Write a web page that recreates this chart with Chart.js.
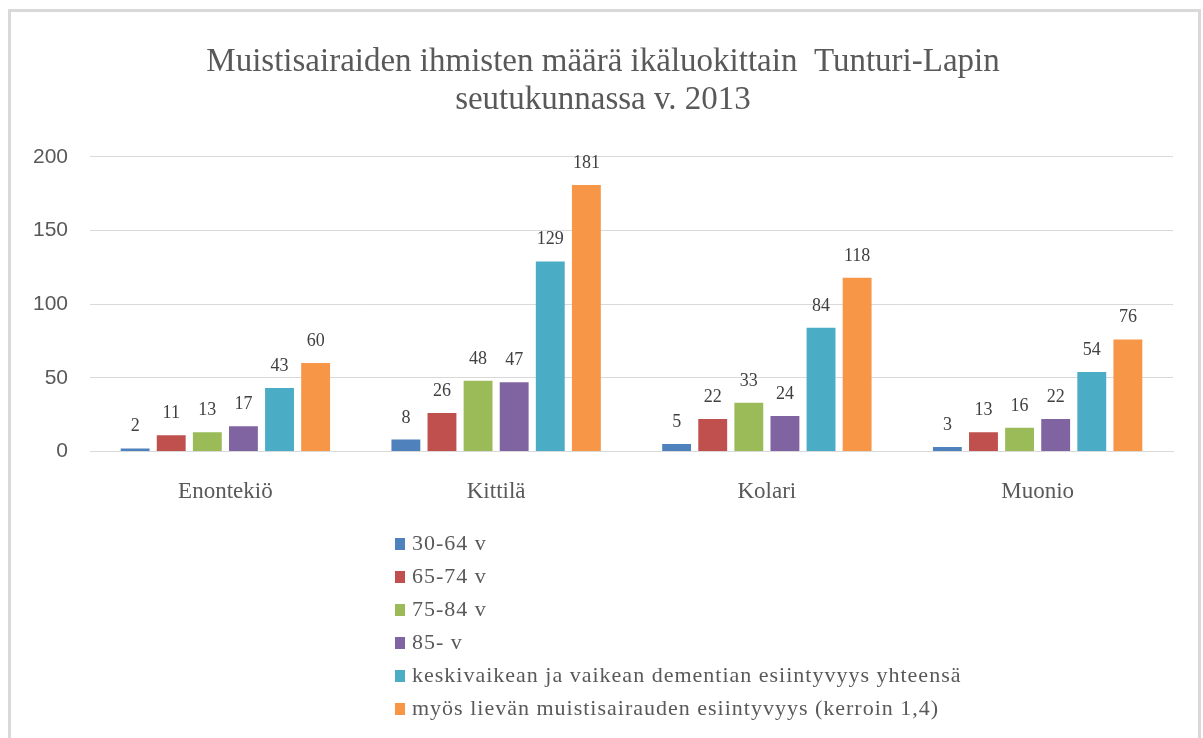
<!DOCTYPE html>
<html>
<head>
<meta charset="utf-8">
<title>Muistisairaiden ihmisten määrä ikäluokittain</title>
<script src="https://cdn.jsdelivr.net/npm/chart.js@4.4.1/dist/chart.umd.min.js"></script>
<style>
  html, body { margin: 0; padding: 0; background: #fff; }
  #frame {
    position: absolute; left: 8px; top: 9px;
    width: 1187px; height: 740px;
    border: 3px solid #d9d9d9; border-bottom: none;
  }
  #wrap { position: absolute; left: 0; top: 0; width: 1203px; height: 738px; }
</style>
</head>
<body>
<div id="frame"></div>
<div id="wrap"><canvas id="chart"></canvas></div>
<script>
// ─── Data ───
const categories = ['Enontekiö', 'Kittilä', 'Kolari', 'Muonio'];

const seriesNames = [
    '30-64 v',
    '65-74 v',
    '75-84 v',
    '85- v',
    'keskivaikean ja vaikean dementian esiintyvyys yhteensä',
    'myös lievän muistisairauden esiintyvyys (kerroin 1,4)'
];

const age30to64 = [2, 8, 5, 3];
const age65to74 = [11, 26, 22, 13];
const age75to84 = [13, 48, 33, 16];
const age85plus = [17, 47, 24, 22];
const moderateSevereTotal = [43, 129, 84, 54];
const includingMild = [60, 181, 118, 76];

const yTicks = [0, 50, 100, 150, 200];

const titleLines = [
    'Muistisairaiden ihmisten määrä ikäluokittain  Tunturi-Lapin',
    'seutukunnassa v. 2013'
];

// ─── Style ───
const seriesColors = ['#4f81bd', '#c0504d', '#9bbb59', '#8064a2', '#4bacc6', '#f79646'];
const textGrey = '#595959';
const gridGrey = '#d9d9d9';
const serif = "'Liberation Serif', 'Times New Roman', serif";
const sans = "'Liberation Sans', Arial, sans-serif";

const seriesValues = [age30to64, age65to74, age75to84, age85plus, moderateSevereTotal, includingMild];

const datasets = seriesNames.map((name, i) => ({
    label: name,
    data: seriesValues[i],
    backgroundColor: seriesColors[i],
    borderWidth: 0,
    categoryPercentage: 0.8,
    barPercentage: 0.8
}));

// ─── Value labels above bars ───
const valueLabels = {
    id: 'valueLabels',
    afterDatasetsDraw(chart) {
        const ctx = chart.ctx;
        ctx.save();
        ctx.font = '18px ' + serif;
        ctx.fillStyle = '#404040';
        ctx.textAlign = 'center';
        ctx.textBaseline = 'alphabetic';
        chart.data.datasets.forEach((ds, i) => {
            chart.getDatasetMeta(i).data.forEach((bar, j) => {
                ctx.fillText(String(ds.data[j]), bar.x, bar.y - 17);
            });
        });
        ctx.restore();
    }
};

// ─── Legend, one item per line ───
const stackedLegend = {
    id: 'stackedLegend',
    afterDraw(chart, args, opts) {
        const ctx = chart.ctx;
        ctx.save();
        ctx.font = opts.fontSize + 'px ' + serif;
        if ('letterSpacing' in ctx) ctx.letterSpacing = opts.letterSpacing;
        ctx.textAlign = 'left';
        ctx.textBaseline = 'middle';
        chart.data.datasets.forEach((ds, i) => {
            const y = opts.top + i * opts.rowHeight;
            ctx.fillStyle = ds.backgroundColor;
            ctx.fillRect(opts.left, y - 6, 10, 12);
            ctx.fillStyle = textGrey;
            ctx.fillText(ds.label, opts.left + 17, y);
        });
        ctx.restore();
    }
};

const ctx = document.getElementById('chart').getContext('2d');
const chart = new Chart(ctx, {
    type: 'bar',
    data: { labels: categories, datasets },
    options: {
        responsive: true,
        maintainAspectRatio: false,
        animation: false,
        layout: { padding: { left: 33, right: 30, top: 43, bottom: 213 } },
        scales: {
            x: {
                grid: { display: false },
                border: { color: gridGrey },
                ticks: {
                    color: textGrey,
                    font: { family: serif, size: 23 },
                    padding: 19
                }
            },
            y: {
                min: 0,
                max: 200,
                afterBuildTicks: axis => { axis.ticks = yTicks.map(v => ({ value: v })); },
                afterFit: axis => { axis.width = 57; },
                grid: { color: gridGrey, lineWidth: 1, drawTicks: false },
                border: { display: false },
                ticks: {
                    color: textGrey,
                    font: { family: sans, size: 21 },
                    padding: 22
                }
            }
        },
        plugins: {
            legend: { display: false },
            tooltip: { enabled: false },
            title: {
                display: true,
                text: titleLines,
                color: textGrey,
                font: { family: serif, size: 33, weight: 'normal', lineHeight: 1.15 },
                padding: { top: 0, bottom: 38 }
            },
            stackedLegend: { left: 395, top: 544, rowHeight: 33, fontSize: 22, letterSpacing: '1px' }
        }
    },
    plugins: [valueLabels, stackedLegend]
});
</script>
</body>
</html>
